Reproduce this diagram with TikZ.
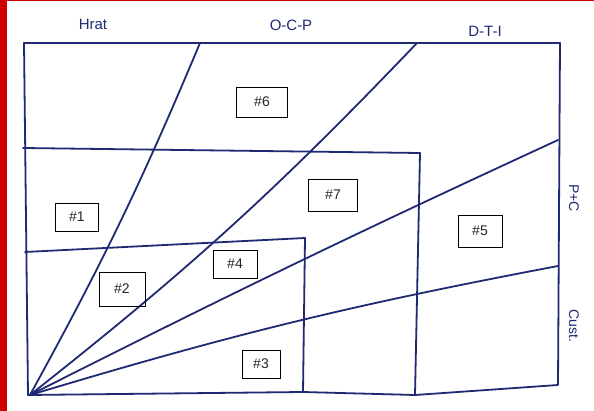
\documentclass[tikz,border=0pt]{standalone}
\usepackage{fontspec}
\setmainfont{Liberation Sans}
\definecolor{pen}{HTML}{1F2A72}
\definecolor{redbar}{HTML}{D00000}
\begin{document}
\begin{tikzpicture}[x=1pt,y=-1pt,
  pen/.style={draw=pen,line width=1.8pt,line cap=round,line join=round},
  tag/.style={draw=black,line width=0.8pt,inner sep=0pt,minimum width=#1,minimum height=28pt,font=\fontsize{14}{14}\selectfont,text=black!85},
  head/.style={text=pen,font=\fontsize{15}{15}\selectfont,inner sep=0pt},
  side/.style={text=pen,font=\fontsize{14}{14}\selectfont,inner sep=0pt,rotate=-90}]
\useasboundingbox (0,0) rectangle (594,411);
\fill[white] (0,0) rectangle (594,411);
\fill[redbar] (0,0) rectangle (7,411);
\fill[redbar] (0,0) rectangle (594,1.2);
% corners
\coordinate (TL) at (24,43);
\coordinate (TR) at (560,43);
\coordinate (BR) at (558,385);
\coordinate (BL) at (28,395);
\coordinate (O) at (30,395);
\coordinate (H1L) at (23,148);
\coordinate (H1R) at (420,153);
\coordinate (H1B) at (415,395);
\coordinate (H2L) at (25,252);
\coordinate (H2R) at (305,238);
\coordinate (H2B) at (303,392);
\coordinate (F1) at (200,43);
\coordinate (F2) at (417,43);
\coordinate (F3) at (558,140);
\coordinate (F4) at (558,266);
% outer frame
\draw[pen] (TL) -- (TR) -- (BR) -- (H1B) -- (H2B) -- (BL);
\draw[pen] (TL) -- (BL);
% inner rectangles
\draw[pen] (H1L) -- (H1R) -- (H1B);
\draw[pen] (H2L) -- (H2R) -- (H2B);
% fan
\draw[pen] (O) to[bend right=3] (F1);
\draw[pen] (O) to[bend right=4] (F2);
\draw[pen] (O) to[bend left=1] (F3);
\draw[pen] (O) to[bend left=3] (F4);
% headings
\node[head] (hrat) at (93,24) {Hrat};
\node[head] (ocp) at (291,25) {O-C-P};
\node[head] (dti) at (485,31) {D-T-I};
\node[side] (pc) at (574,198) {P+C};
\node[side] (cust) at (574,326) {Cust.};
% tags
\node[tag=51pt,minimum height=30pt] (t6) at (262,102) {\#6};
\node[tag=43pt] (t1) at (77,217) {\#1};
\node[tag=44pt] (t4) at (235,264) {\#4};
\node[tag=46pt,minimum height=34pt] (t2) at (122,289) {\#2};
\node[tag=38pt] (t3) at (261,364) {\#3};
\node[tag=49pt,minimum height=32pt] (t7) at (333,195) {\#7};
\node[tag=44pt,minimum height=32pt] (t5) at (480,231) {\#5};
\end{tikzpicture}
\end{document}
